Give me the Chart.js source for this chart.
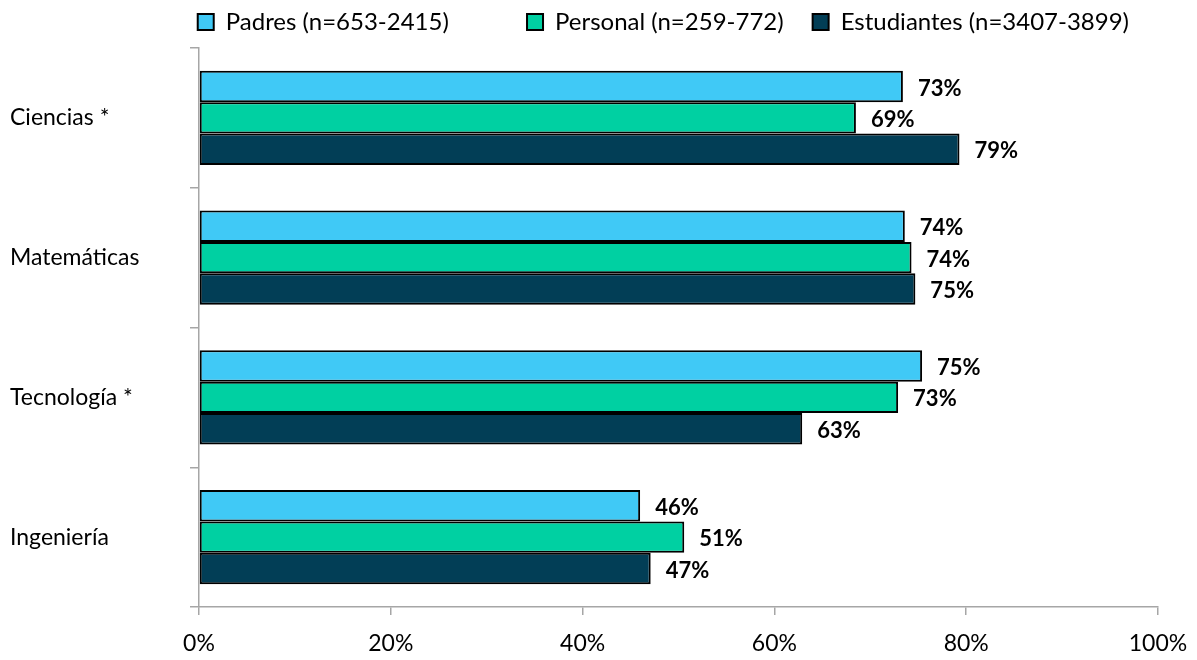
<!DOCTYPE html>
<html>
<head>
<meta charset="utf-8">
<script src="https://cdn.jsdelivr.net/npm/chart.js@4/dist/chart.umd.min.js"></script>
<style>
  body { margin: 0; background: #fff; }
  #wrap { width: 1197px; height: 660px; }
</style>
</head>
<body>
<div id="wrap"><canvas id="chart"></canvas></div>
<script>
'use strict';

let categories = ['Ciencias *', 'Matemáticas', 'Tecnología *', 'Ingeniería'];
let padresValues = [73.4, 73.6, 75.4, 46.0];
let personalValues = [68.5, 74.3, 72.9, 50.6];
let estudiantesValues = [79.3, 74.7, 62.9, 47.1];
let seriesNames = ['Padres (n=653-2415)', 'Personal (n=259-772)', 'Estudiantes (n=3407-3899)'];
let xTicks = [0, 20, 40, 60, 80, 100];

let fontName = 'Lato, "Open Sans", sans-serif';
let axisGrey = '#a6a6a6';

// labels drawn right of each bar end
let barLabels = {
    id: 'barLabels',
    afterDatasetsDraw(chart) {
        let ctx = chart.ctx;
        ctx.save();
        ctx.font = 'bold 22px ' + fontName;
        ctx.fillStyle = '#000';
        ctx.textBaseline = 'middle';
        ctx.textAlign = 'left';
        chart.data.datasets.forEach(function (ds, i) {
            let meta = chart.getDatasetMeta(i);
            meta.data.forEach(function (bar, j) {
                ctx.fillText(Math.round(ds.data[j]) + '%', bar.x + 15, bar.y + 2);
            });
        });
        ctx.restore();
    }
};

// fix legend height so the plot starts where it does in the picture
let legendHeight = {
    id: 'legendHeight',
    beforeInit(chart) {
        let fit = chart.legend.fit;
        chart.legend.fit = function () {
            fit.call(this);
            this.height = 67;
        };
    }
};

let ctx = document.getElementById('chart').getContext('2d');
let myChart = new Chart(ctx, {
    type: 'bar',
    data: {
        labels: categories,
        datasets: [{
            label: seriesNames[0],
            data: padresValues,
            backgroundColor: '#40c9f6',
            borderColor: '#000',
            borderWidth: 2,
            borderSkipped: false
        }, {
            label: seriesNames[1],
            data: personalValues,
            backgroundColor: '#00d0a2',
            borderColor: '#000',
            borderWidth: 2,
            borderSkipped: false
        }, {
            label: seriesNames[2],
            data: estudiantesValues,
            backgroundColor: '#023e56',
            borderColor: '#000',
            borderWidth: 2,
            borderSkipped: false
        }]
    },
    plugins: [barLabels, legendHeight],
    options: {
        indexAxis: 'y',
        responsive: true,
        maintainAspectRatio: false,
        animation: false,
        devicePixelRatio: 1,
        datasets: {
            bar: {
                categoryPercentage: 0.675,
                barPercentage: 1
            }
        },
        layout: {
            padding: { left: 10, right: 39, top: -19, bottom: 0 }
        },
        plugins: {
            tooltip: { enabled: false },
            legend: {
                position: 'top',
                align: 'end',
                labels: {
                    color: '#000',
                    font: { family: fontName, size: 24 },
                    boxWidth: 16,
                    boxHeight: 16,
                    padding: 29,
                    generateLabels(chart) {
                        return chart.data.datasets.map(function (ds, i) {
                            // first item has a wider gap after it
                            let txt = i === 0 ? ds.label + '        ' : ds.label;
                            return {
                                text: txt,
                                fillStyle: ds.backgroundColor,
                                strokeStyle: '#000',
                                lineWidth: 2,
                                fontColor: '#000',
                                datasetIndex: i
                            };
                        });
                    }
                }
            }
        },
        scales: {
            x: {
                min: 0,
                max: 100,
                afterBuildTicks(scale) {
                    scale.ticks = xTicks.map(function (v) { return { value: v }; });
                },
                afterFit(scale) {
                    scale.height = 53;
                    scale.paddingRight = 0;
                },
                border: { color: axisGrey, width: 1.5 },
                grid: {
                    drawOnChartArea: false,
                    drawTicks: true,
                    tickLength: 8,
                    color: axisGrey,
                    lineWidth: 1.5
                },
                ticks: {
                    color: '#000',
                    padding: 15,
                    font: { family: fontName, size: 23 },
                    callback: function (v) { return v + '%'; }
                }
            },
            y: {
                afterFit(scale) {
                    scale.width = 189;
                },
                border: { color: axisGrey, width: 1.5 },
                grid: {
                    offset: true,
                    drawOnChartArea: false,
                    drawTicks: true,
                    tickLength: 9,
                    color: axisGrey,
                    lineWidth: 1.5
                },
                ticks: {
                    color: '#000',
                    crossAlign: 'far',
                    font: { family: fontName, size: 23 }
                }
            }
        }
    }
});
</script>
</body>
</html>
